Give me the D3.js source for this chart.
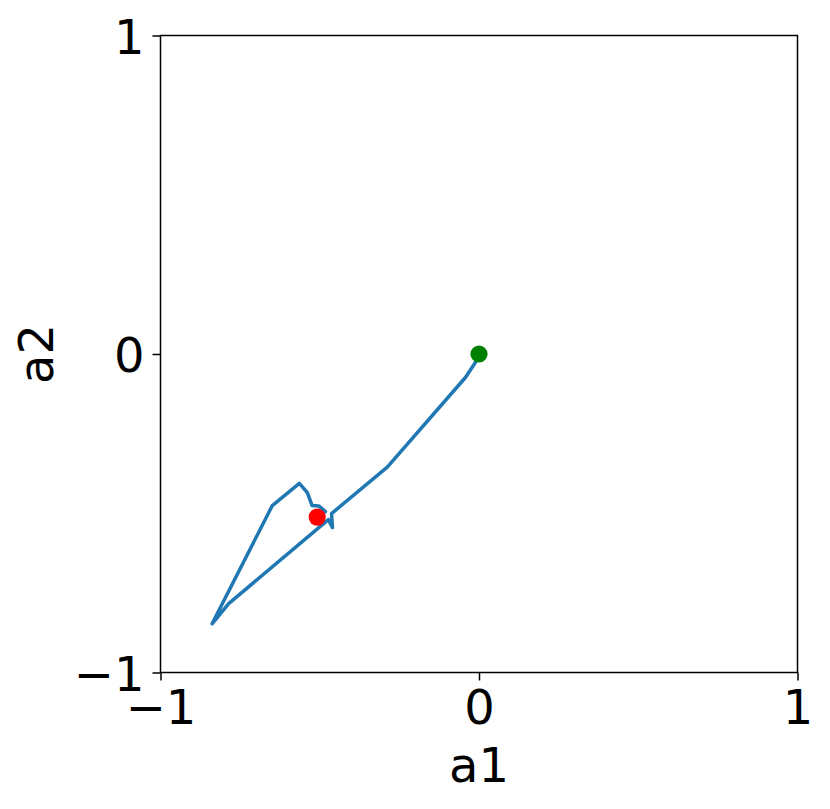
<!DOCTYPE html>
<html>
<head>
<meta charset="utf-8">
<script src="https://cdn.jsdelivr.net/npm/d3@7"></script>
<style>
  body { margin: 0; background: #fff; }
  text { font-family: "DejaVu Sans", sans-serif; }
</style>
</head>
<body>
<svg id="chart" width="830" height="809"></svg>
<script>
// trajectory of the action (a1, a2)
const a1 = [0.0, -0.011, -0.042, -0.288, -0.463, -0.460, -0.473, -0.786, -0.838, -0.649, -0.564, -0.539, -0.524, -0.503, -0.482, -0.508];
const a2 = [0.0, -0.026, -0.073, -0.355, -0.501, -0.545, -0.520, -0.784, -0.847, -0.476, -0.406, -0.435, -0.476, -0.477, -0.495, -0.512];
const startPoint = [0, 0];
const endPoint = [-0.508, -0.512];
const tickValues = [-1, 0, 1];

const svg = d3.select('#chart');
const margin = { left: 160.5, top: 35.5, right: 797.5, bottom: 672.5 };
const fontSize = 48;

const x = d3.scaleLinear().domain([-1, 1]).range([margin.left, margin.right]);
const y = d3.scaleLinear().domain([-1, 1]).range([margin.bottom, margin.top]);

const fmt = d => d < 0 ? '\u2212' + Math.abs(d) : String(d);

// x axis
const xAxis = svg.append('g')
    .attr('transform', `translate(0,${margin.bottom})`)
    .call(d3.axisBottom(x).tickValues(tickValues).tickFormat(fmt).tickSize(8).tickPadding(8));
xAxis.select('.domain').remove();
xAxis.selectAll('line').attr('stroke', 'black').attr('stroke-width', 1.5);
xAxis.selectAll('text')
    .attr('font-size', fontSize)
    .attr('fill', 'black')
    .attr('font-family', '"DejaVu Sans", sans-serif')
    .attr('dy', '0.74em');

// y axis
const yAxis = svg.append('g')
    .attr('transform', `translate(${margin.left},0)`)
    .call(d3.axisLeft(y).tickValues(tickValues).tickFormat(fmt).tickSize(8).tickPadding(8));
yAxis.select('.domain').remove();
yAxis.selectAll('line').attr('stroke', 'black').attr('stroke-width', 1.5);
yAxis.selectAll('text')
    .attr('font-size', fontSize)
    .attr('fill', 'black')
    .attr('font-family', '"DejaVu Sans", sans-serif')
    .attr('dy', '0.365em');

// frame
svg.append('rect')
    .attr('x', margin.left)
    .attr('y', margin.top)
    .attr('width', margin.right - margin.left)
    .attr('height', margin.bottom - margin.top)
    .attr('fill', 'none')
    .attr('stroke', 'black')
    .attr('stroke-width', 1.5);

// trajectory
const line = d3.line()
    .x((d, i) => x(a1[i]))
    .y((d, i) => y(a2[i]));

svg.append('path')
    .datum(a1)
    .attr('d', line)
    .attr('fill', 'none')
    .attr('stroke', '#1f77b4')
    .attr('stroke-width', 3.5)
    .attr('stroke-linejoin', 'round')
    .attr('stroke-linecap', 'square');

svg.append('circle')
    .attr('cx', x(startPoint[0]))
    .attr('cy', y(startPoint[1]))
    .attr('r', 8.6)
    .attr('fill', 'green');

svg.append('circle')
    .attr('cx', x(endPoint[0]))
    .attr('cy', y(endPoint[1]))
    .attr('r', 8.6)
    .attr('fill', 'red');

// axis labels
svg.append('text')
    .attr('x', (margin.left + margin.right) / 2)
    .attr('y', 782)
    .attr('text-anchor', 'middle')
    .attr('font-size', fontSize)
    .text('a1');

svg.append('text')
    .attr('transform', `translate(53,${(margin.top + margin.bottom) / 2}) rotate(-90)`)
    .attr('text-anchor', 'middle')
    .attr('font-size', fontSize)
    .text('a2');
</script>
</body>
</html>
